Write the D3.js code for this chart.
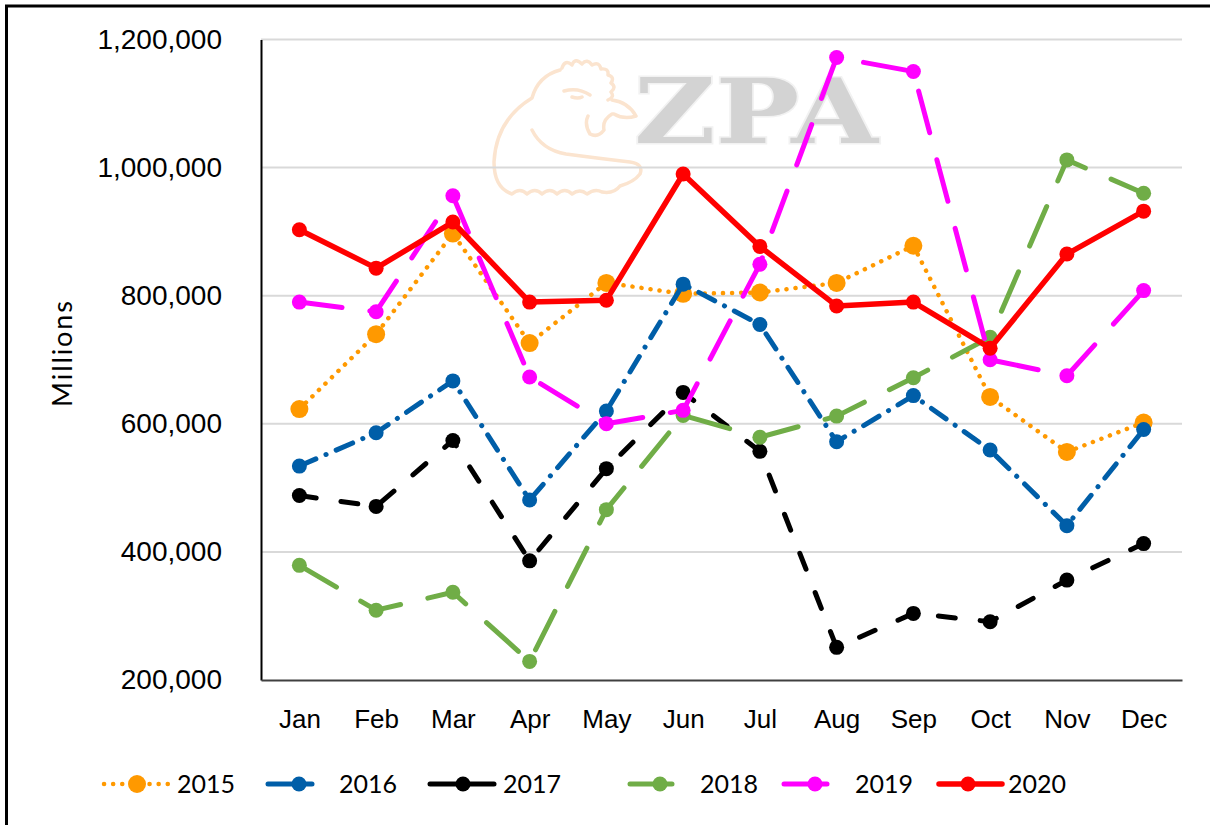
<!DOCTYPE html>
<html>
<head>
<meta charset="utf-8">
<script src="https://cdn.jsdelivr.net/npm/d3@7"></script>
<style>
  html, body { margin: 0; padding: 0; background: #fff; }
  svg { display: block; font-family: Lato, "Noto Sans", sans-serif; }
</style>
</head>
<body>
<svg id="chart" width="1210" height="825"></svg>
<script>
// data
const months = ['Jan', 'Feb', 'Mar', 'Apr', 'May', 'Jun', 'Jul', 'Aug', 'Sep', 'Oct', 'Nov', 'Dec'];
const years = ['2015', '2016', '2017', '2018', '2019', '2020'];
const yTicks = [200000, 400000, 600000, 800000, 1000000, 1200000];

const s2015 = [623000, 740000, 897000, 726000, 820000, 803000, 805000, 820000, 878000, 642000, 556000, 602000];
const s2016 = [534000, 586000, 667000, 481000, 620000, 818000, 755000, 572000, 644000, 559000, 441000, 591000];
const s2017 = [488000, 471000, 574000, 386000, 530000, 649000, 557000, 251000, 304000, 291000, 356000, 413000];
const s2018 = [379000, 309000, 337000, 229000, 466000, 613000, 579000, 612000, 672000, 735000, 1012000, 960000];
const s2019 = [790000, 775000, 956000, 673000, 600000, 621000, 849000, 1172000, 1150000, 700000, 675000, 808000];
const s2020 = [903000, 843000, 915000, 790000, 793000, 990000, 877000, 784000, 790000, 718000, 865000, 932000];

const seriesValues = [s2015, s2016, s2017, s2018, s2019, s2020];

// styles per series
const styles = [
  {color: '#ff9900', dash: '0.1,9', width: 4.5, r: 9},
  {color: '#005ea8', dash: '18,11,0.1,11', width: 5, r: 7.5},
  {color: '#000000', dash: '17,25', width: 5, r: 7.5},
  {color: '#70ad47', dash: '43,28', width: 5, r: 7.5},
  {color: '#ff00ff', dash: '43,28', width: 5, r: 7.5},
  {color: '#ff0000', dash: null, width: 5.5, r: 7.5}
];
// legend layout: marker x, visible line extent
const legendMarkerX = [137, 299, 463, 660, 815, 968];
const legendLineX = [[104, 168], [268, 312], [430, 494], [630, 672], [784, 827], [939, 1002]];

const svg = d3.select('#chart');

// frame
svg.append('rect')
  .attr('x', 6.5).attr('y', 6)
  .attr('width', 1300).attr('height', 1000)
  .attr('fill', 'none').attr('stroke', '#000').attr('stroke-width', 3);

const plot = {left: 261, right: 1182, top: 39.5, bottom: 680};

const x = d3.scalePoint()
  .domain(months)
  .range([plot.left, plot.right])
  .padding(0.5);

const y = d3.scaleLinear()
  .domain([200000, 1200000])
  .range([plot.bottom, plot.top]);

// watermark
const wm = svg.append('g').attr('class', 'watermark');
const chicken = 'M562,68 q3,-9 10,-3 q3,-8 10,-1 q5,-6 10,1 q7,-4 9,4 q8,-1 7,6 q7,2 3,8 q6,4 0,9 q4,5 -3,8 ' +
  'M560,70 q-22,6 -28,28 q-36,22 -38,64 q0,26 18,32 q8,-7 15,0 q8,-7 15,0 q8,-7 15,0 q8,-7 15,0 q8,-6 15,0 q8,-6 15,-2 q12,2 18,-6 q14,-4 20,-12 q4,-10 -10,-12 q-34,-4 -64,-8 q-24,-4 -34,-24 ' +
  'M612,100 q16,2 24,16 q-12,4 -22,-2 ' +
  'M612,114 q-10,6 -8,16 q-6,8 -14,4 q-6,-10 -2,-18 ' +
  'M564,91 q14,-4 26,4 M572,97 q6,2 10,0';
wm.append('path')
  .attr('d', chicken)
  .attr('fill', 'none')
  .attr('stroke', '#fbe4cf')
  .attr('stroke-width', 3.5)
  .attr('stroke-linecap', 'round')
  .attr('stroke-linejoin', 'round');
wm.append('text')
  .attr('x', 634).attr('y', 143)
  .attr('textLength', 244)
  .attr('lengthAdjust', 'spacingAndGlyphs')
  .style('font-family', '"DejaVu Serif", serif')
  .style('font-weight', 'bold')
  .style('font-size', '90px')
  .attr('fill', '#d3d3d3')
  .attr('stroke', '#f2f2f2')
  .attr('stroke-width', 3)
  .attr('paint-order', 'stroke')
  .text('ZPA');

// gridlines
svg.append('g')
  .selectAll('line')
  .data(yTicks.slice(1))
  .join('line')
  .attr('x1', plot.left).attr('x2', plot.right)
  .attr('y1', d => y(d)).attr('y2', d => y(d))
  .attr('stroke', '#d9d9d9').attr('stroke-width', 2);

// y axis
const yAxis = svg.append('g')
  .attr('transform', `translate(${plot.left},0)`)
  .call(d3.axisLeft(y).tickValues(yTicks).tickSize(0).tickPadding(39).tickFormat(d3.format(',')));
yAxis.select('.domain').attr('stroke', '#000').attr('stroke-width', 2);
yAxis.selectAll('text').style('font-size', '28px').attr('fill', '#000');

// x axis
const xAxis = svg.append('g')
  .attr('transform', `translate(0,${plot.bottom})`)
  .call(d3.axisBottom(x).tickSize(0).tickPadding(30));
xAxis.select('.domain').attr('stroke', '#404040').attr('stroke-width', 2);
xAxis.selectAll('text').style('font-size', '26px').attr('fill', '#000');

// y title
svg.append('text')
  .attr('transform', 'translate(72,354) rotate(-90)')
  .attr('text-anchor', 'middle')
  .attr('textLength', 106)
  .style('font-size', '27px')
  .text('Millions');

// series
const line = d3.line()
  .x((d, i) => x(months[i]))
  .y(d => y(d));

years.forEach((yr, k) => {
  const st = styles[k];
  const g = svg.append('g').attr('class', 'series-' + yr);
  g.append('path')
    .datum(seriesValues[k])
    .attr('d', line)
    .attr('fill', 'none')
    .attr('stroke', st.color)
    .attr('stroke-width', st.width)
    .attr('stroke-dasharray', st.dash)
    .attr('stroke-linecap', 'round')
    .attr('stroke-linejoin', 'round');
  g.selectAll('circle')
    .data(seriesValues[k])
    .join('circle')
    .attr('cx', (d, i) => x(months[i]))
    .attr('cy', d => y(d))
    .attr('r', st.r)
    .attr('fill', st.color);
});

// legend
const legend = svg.append('g').attr('class', 'legend');
years.forEach((yr, k) => {
  const st = styles[k];
  const mx = legendMarkerX[k];
  const item = legend.append('g');
  item.append('line')
    .attr('x1', legendLineX[k][0]).attr('x2', legendLineX[k][1])
    .attr('y1', 784).attr('y2', 784)
    .attr('stroke', st.color)
    .attr('stroke-width', st.width)
    .attr('stroke-dasharray', k === 0 ? st.dash : null)
    .attr('stroke-linecap', 'round');
  item.append('circle')
    .attr('cx', mx).attr('cy', 784)
    .attr('r', st.r)
    .attr('fill', st.color);
  item.append('text')
    .attr('x', mx + 40).attr('y', 784)
    .attr('dy', '0.35em')
    .style('font-size', '25px')
    .text(yr);
});
</script>
</body>
</html>
